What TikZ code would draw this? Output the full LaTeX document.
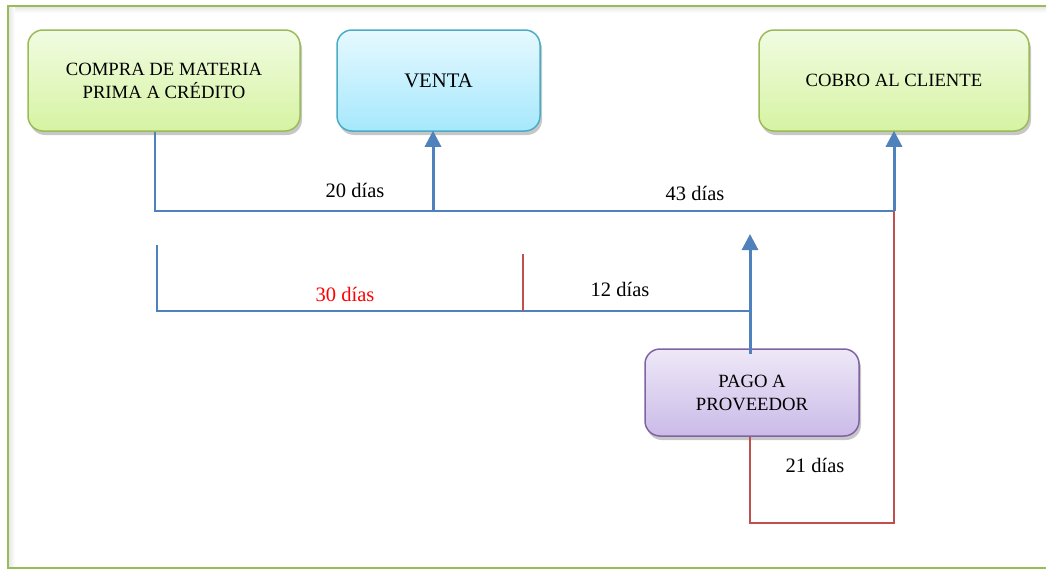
\documentclass[tikz,border=0pt]{standalone}
\usepackage{fontspec}
\setmainfont{Liberation Serif}
\usetikzlibrary{arrows.meta,shadows}
\definecolor{gborder}{HTML}{9BBB59}
\definecolor{gtop}{HTML}{F1FCE2}
\definecolor{gbot}{HTML}{D6F3A2}
\definecolor{bborder}{HTML}{4BACC6}
\definecolor{btop}{HTML}{E6F9FF}
\definecolor{bbot}{HTML}{A6E8FC}
\definecolor{pborder}{HTML}{8064A2}
\definecolor{ptop}{HTML}{EEE8F7}
\definecolor{pbot}{HTML}{CABBE8}
\definecolor{lblue}{HTML}{4F81BD}
\definecolor{lred}{HTML}{C0504D}
\tikzset{
  box/.style={rounded corners=15pt, line width=1.5pt, align=center, inner sep=0pt,
    font=\fontsize{18.7}{23}\selectfont,
    drop shadow={opacity=0.22, shadow xshift=2pt, shadow yshift=-4pt, fill=black}},
  greenbox/.style={box, draw=gborder, top color=gtop, bottom color=gbot},
  bluebox/.style={box, draw=bborder, top color=btop, bottom color=bbot},
  purplebox/.style={box, draw=pborder, top color=ptop, bottom color=pbot},
  thinb/.style={draw=lblue, line width=1.6pt},
  thinr/.style={draw=lred, line width=1.6pt},
  arr/.style={draw=lblue, line width=3pt, -{Triangle[width=16pt,length=16pt]}, shorten >=-1pt},
  lbl/.style={font=\fontsize{20.5}{24}\selectfont, inner sep=0pt}
}
\begin{document}
\begin{tikzpicture}[x=1pt,y=-1pt]
\useasboundingbox (0,0) rectangle (1046,570);
% outer frame with soft inner shadow
\shade[top color=black!9, bottom color=white] (9,7) rectangle (1050,13);
\shade[left color=black!9, right color=white] (9,7) rectangle (15,567);
\draw[draw=gborder, line width=2pt] (1050,6) -- (8,6) -- (8,568) -- (1050,568);
% boxes
\node[greenbox, minimum width=272pt, minimum height=101pt] (compra) at (164,80.5) {COMPRA DE MATERIA\\PRIMA A CRÉDITO};
\node[bluebox, minimum width=203pt, minimum height=101pt, font=\fontsize{20.7}{24}\selectfont] (venta) at (438.5,80.5) {VENTA};
\node[greenbox, minimum width=270pt, minimum height=101pt] (cobro) at (894,80.5) {COBRO AL CLIENTE};
\node[purplebox, minimum width=214pt, minimum height=87pt] (pago) at (752,392.5) {PAGO A\\PROVEEDOR};
% coordinates
\coordinate (a1) at (155,211);
\coordinate (a2) at (894,211);
\coordinate (av) at (433,211);
\coordinate (b0) at (157,245);
\coordinate (b1) at (157,311);
\coordinate (b2) at (750,311);
\coordinate (bt) at (750,235);
\coordinate (r0) at (523,254);
\coordinate (r1) at (523,311);
\coordinate (c1) at (750,523);
\coordinate (c2) at (894,523);
% top timeline
\draw[thinb] (compra.south -| a1) -- (a1) -- (a2);
\draw[arr] (av) -- (venta.south -| av);
\draw[arr] (a2) -- (cobro.south);
% second timeline
\draw[thinb] (b0) -- (b1) -- (b2);
\draw[thinr] (r0) -- (r1);
\draw[arr] (pago.north -| bt) ++(0,6) -- (bt);
% red return line
\draw[thinr] (pago.south -| c1) -- (c1) -- (c2) -- (a2);
% labels
\node[lbl] (l20) at (355,190) {20 días};
\node[lbl] (l43) at (695,193) {43 días};
\node[lbl, text=red] (l30) at (345,294) {30 días};
\node[lbl] (l12) at (620,289) {12 días};
\node[lbl] (l21) at (815,465) {21 días};
\end{tikzpicture}
\end{document}
